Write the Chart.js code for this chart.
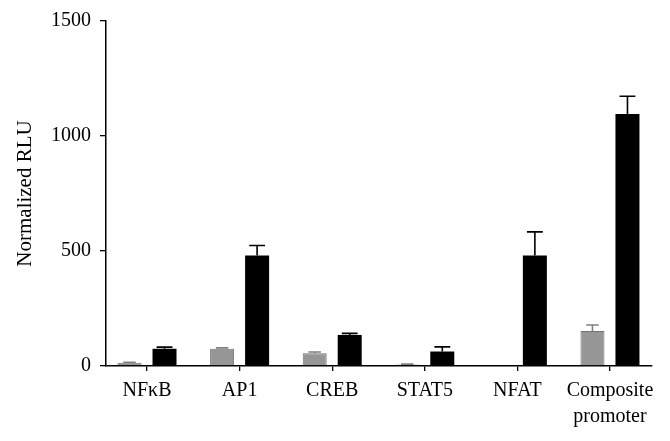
<!DOCTYPE html>
<html>
<head>
<meta charset="utf-8">
<script src="https://cdn.jsdelivr.net/npm/chart.js@4"></script>
<style>
  html, body { margin: 0; padding: 0; background: #fff; }
  #wrap { width: 670px; height: 441px; }
</style>
</head>
<body>
<div id="wrap"><canvas id="bar-chart" width="670" height="441"></canvas></div>
<script>
const categories = ["NF\u03baB", "AP1", "CREB", "STAT5", "NFAT", ["Composite", "promoter"]];
const grayValues = [14, 75, 55, 7, 3, 152];
const grayErrors = [2, 4, 6, 1, 0, 26];
const blackValues = [75, 480, 135, 63, 480, 1096];
const blackErrors = [7, 44, 7, 20, 103, 77];
const yTicks = [0, 500, 1000, 1500];

// bars sit on a linear x scale at integer positions 0..5
const toPoints = vals => vals.map((v, i) => ({ x: i, y: v }));

const errorBars = {
  id: "errorBars",
  afterDatasetsDraw(chart) {
    const ctx = chart.ctx;
    const y = chart.scales.y;
    chart.data.datasets.forEach((ds, di) => {
      const meta = chart.getDatasetMeta(di);
      meta.data.forEach((bar, i) => {
        const err = ds.errors[i];
        if (!err) return;
        const top = y.getPixelForValue(ds.data[i].y + err);
        const cap = bar.width * ds.capRatio;
        ctx.save();
        ctx.strokeStyle = ds.errorColor;
        ctx.lineWidth = 1.6;
        ctx.beginPath();
        ctx.moveTo(bar.x, bar.y);
        ctx.lineTo(bar.x, top);
        ctx.moveTo(bar.x - cap, top);
        ctx.lineTo(bar.x + cap, top);
        ctx.stroke();
        ctx.restore();
      });
    });
  }
};

const serif = "'Liberation Serif', 'DejaVu Serif', serif";

new Chart(document.getElementById("bar-chart"), {
  type: "bar",
  data: {
    datasets: [
      {
        data: toPoints(grayValues),
        errors: grayErrors,
        errorColor: "#808080",
        capRatio: 0.26,
        backgroundColor: "#969696",
        borderColor: "#737373",
        borderWidth: 1,
        categoryPercentage: 0.756,
        barPercentage: 0.686,
      },
      {
        data: toPoints(blackValues),
        errors: blackErrors,
        errorColor: "#000",
        capRatio: 0.33,
        backgroundColor: "#000",
        borderColor: "#000",
        borderWidth: 0,
        categoryPercentage: 0.756,
        barPercentage: 0.686,
      },
    ],
  },
  options: {
    responsive: false,
    animation: false,
    layout: { padding: { top: 11, right: 18, left: 0, bottom: 0 } },
    plugins: {
      legend: { display: false },
      tooltip: { enabled: false },
    },
    scales: {
      x: {
        type: "linear",
        offset: false,
        min: -0.443,
        max: 5.454,
        afterBuildTicks(scale) { scale.ticks = categories.map((c, i) => ({ value: i })); },
        grid: { display: true, offset: false, drawOnChartArea: false, drawTicks: true, tickLength: 5, color: "#000", lineWidth: 1.3 },
        border: { display: true, color: "#000", width: 1.5 },
        ticks: {
          color: "#000",
          font: { family: serif, size: 20, lineHeight: 1.28 },
          padding: 7,
          maxRotation: 0,
          autoSkip: false,
          callback: v => categories[v],
        },
        afterFit(scale) { scale.height = 75; },
      },
      y: {
        min: 0,
        max: 1500,
        afterBuildTicks(scale) { scale.ticks = yTicks.map(v => ({ value: v })); },
        grid: { display: true, drawOnChartArea: false, drawTicks: true, tickLength: 6, color: "#000", lineWidth: 1.3 },
        border: { display: true, color: "#000", width: 1.5 },
        ticks: { color: "#000", font: { family: serif, size: 20 }, padding: 9, callback: v => String(v) },
        title: { display: true, text: "Normalized RLU", color: "#000", font: { family: serif, size: 21 }, padding: { top: 13, bottom: 0 } },
        afterFit(scale) { scale.width = 106; },
      },
    },
  },
  plugins: [errorBars],
});
</script>
</body>
</html>
